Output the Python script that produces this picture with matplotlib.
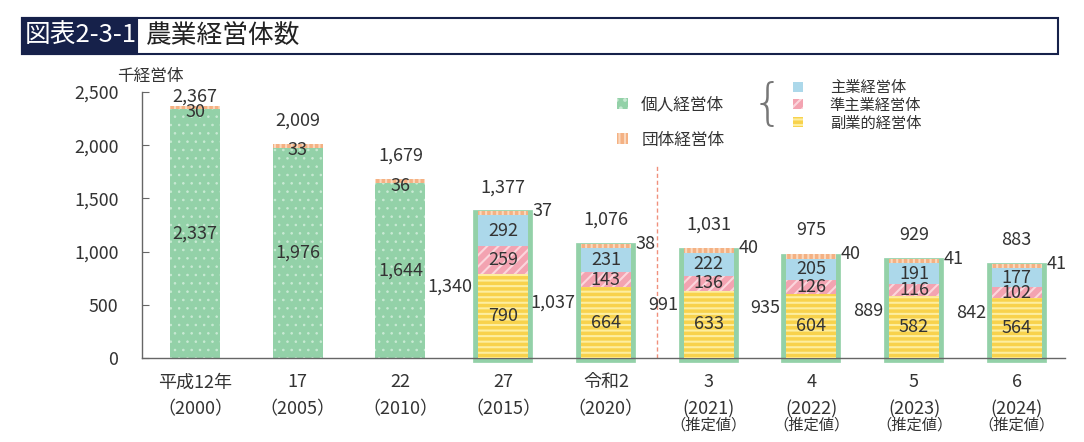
import matplotlib as mpl
import matplotlib.pyplot as plt
from matplotlib.patches import Rectangle, Patch
import numpy as np

plt.rcParams['font.family'] = ['Noto Sans CJK JP', 'DejaVu Sans']
plt.rcParams['hatch.linewidth'] = 1.5

# data (thousand farm entities)
cats = ['平成12年', '17', '22', '27', '令和2', '3', '4', '5', '6']
years = ['（2000）', '（2005）', '（2010）', '（2015）', '（2020）',
         '(2021)', '(2022)', '(2023)', '(2024)']
n_est = 4  # last four are estimates
individual = [2337, 1976, 1644, 1340, 1037, 991, 935, 889, 842]
org = [30, 33, 36, 37, 38, 40, 40, 41, 41]
total = [2367, 2009, 1679, 1377, 1076, 1031, 975, 929, 883]
# breakdown of individual entities from 2015 on
main_biz = [292, 231, 222, 205, 191, 177]
semi_biz = [259, 143, 136, 126, 116, 102]
side_biz = [790, 664, 633, 604, 582, 564]

green = '#93d1a8'
dot = '#c9ead4'
orange = '#f4b183'
blue = '#acd8ea'
pink = '#f3a3b1'
yellow = '#f8d24c'
navy = '#16214a'
txt = '#333333'

W, H = 1084, 442
fig = plt.figure(figsize=(W / 100, H / 100), dpi=100)
ax = fig.add_axes([142 / W, 1 - 358 / H, (1065 - 142) / W, 266 / H])

x = np.arange(len(cats))
w = 0.487
k = len(cats) - len(main_biz)
xs = x[k:]


def thin_hatch(container, lw):
    for p in container:
        if hasattr(p, 'set_hatch_linewidth'):
            p.set_hatch_linewidth(lw)


# plain green bars (2000-2010)
with mpl.rc_context({'hatch.linewidth': 0.6}):
    gb = ax.bar(x[:k], individual[:k], w, color=green, hatch='..', edgecolor=dot, lw=0, zorder=2)
thin_hatch(gb, 0.6)
# green frame around breakdown bars
ax.bar(xs, individual[k:], w, color=green, edgecolor=green, lw=7, clip_on=False, zorder=2)
b1 = np.array(side_biz)
b2 = b1 + np.array(semi_biz)
ax.bar(xs, side_biz, w, color=yellow, hatch='---', edgecolor='#fdeea0', lw=0, zorder=3)
ax.bar(xs, semi_biz, w, bottom=b1, color=pink, hatch='///', edgecolor='#fbd6dc', lw=0, zorder=3)
ax.bar(xs, main_biz, w, bottom=b2, color=blue, lw=0, zorder=3)
# organisations on top
ax.bar(x, org, w, bottom=individual, color=orange, hatch='|||', edgecolor='#fbd8bd', lw=0, zorder=4)

fs = 13
for i in range(len(cats)):
    ty = min(total[i] + 225, 2460)
    ax.text(x[i], ty, f'{total[i]:,}', ha='center', va='center', fontsize=fs, color=txt, zorder=6)
    if i < k:
        ax.text(x[i], individual[i] / 2, f'{individual[i]:,}', ha='center', va='center',
                fontsize=fs, color=txt, zorder=6)
        ax.text(x[i], individual[i] - 25, f'{org[i]}', ha='center', va='center', fontsize=fs,
                color=txt, zorder=6)
    else:
        ax.text(x[i] - 0.3, individual[i] / 2, f'{individual[i]:,}', ha='right', va='center',
                fontsize=fs, color=txt, zorder=6)
        ax.text(x[i] + 0.29, total[i], f'{org[i]}', ha='left', va='center', fontsize=fs,
                color=txt, zorder=6)

for j, xi in enumerate(xs):
    for val, bot in [(side_biz[j], 0), (semi_biz[j], b1[j]), (main_biz[j], b2[j])]:
        ax.text(xi, bot + val / 2, str(val), ha='center', va='center', fontsize=fs,
                color=txt, zorder=6)

# boundary between census years and estimates
ax.vlines(4.5, 0, 1800, colors='#f0907c', linestyles=(0, (3, 2)), lw=1)

ax.set_xlim(-0.516, 8.47)
ax.set_ylim(0, 2500)
ax.set_yticks(range(0, 2501, 500))
ax.set_yticklabels([f'{v:,}' for v in range(0, 2501, 500)])
ax.tick_params(axis='y', direction='in', length=5, pad=17, labelsize=12.8,
               labelcolor=txt, color='#666666')
ax.set_xticks([])
for s in ['top', 'right']:
    ax.spines[s].set_visible(False)
for s in ['left', 'bottom']:
    ax.spines[s].set_color('#666666')
    ax.spines[s].set_linewidth(1)

for i in range(len(cats)):
    ax.annotate(cats[i], (x[i], 0), xycoords=('data', 'axes fraction'),
                xytext=(0, -17.5), textcoords='offset points', ha='center', va='center',
                fontsize=13, color=txt)
    ax.annotate(years[i], (x[i], 0), xycoords=('data', 'axes fraction'),
                xytext=(0, -37), textcoords='offset points', ha='center', va='center',
                fontsize=13, color=txt)
    if i >= len(cats) - n_est:
        ax.annotate('（推定値）', (x[i], 0), xycoords=('data', 'axes fraction'),
                    xytext=(0, -48.5), textcoords='offset points', ha='center', va='center',
                    fontsize=11, color=txt)

ax.annotate('千経営体', (0, 1), xycoords='axes fraction', xytext=(6, 11),
            textcoords='offset points', ha='center', va='center', fontsize=12, color=txt)

# legends
h1 = [Patch(facecolor=green, hatch='..', edgecolor=dot, lw=0, label='個人経営体'),
      Patch(facecolor=orange, hatch='|||', edgecolor='#fbd8bd', lw=0, label='団体経営体')]
leg1 = ax.legend(handles=h1, loc='upper left', bbox_to_anchor=(617 / W, 1 - 96 / H),
                 bbox_transform=fig.transFigure, frameon=False, fontsize=12,
                 handlelength=0.65, handleheight=0.65, handletextpad=0.8,
                 labelspacing=1.12, borderpad=0, borderaxespad=0)
for t in leg1.get_texts():
    t.set_color(txt)
ax.add_artist(leg1)
h2 = [Patch(facecolor=blue, lw=0, label='主業経営体'),
      Patch(facecolor=pink, hatch='///', edgecolor='#fbd6dc', lw=0, label='準主業経営体'),
      Patch(facecolor=yellow, hatch='---', edgecolor='#fdeea0', lw=0, label='副業的経営体')]
leg2 = ax.legend(handles=h2, loc='upper left', bbox_to_anchor=(793 / W, 1 - 79 / H),
                 bbox_transform=fig.transFigure, frameon=False, fontsize=11,
                 handlelength=0.65, handleheight=0.65, handletextpad=1.75,
                 labelspacing=0.05, borderpad=0, borderaxespad=0)
for t in leg2.get_texts():
    t.set_color(txt)
fig.text(768 / W, 1 - 105 / H, '{', fontsize=36, family='DejaVu Sans', weight='light',
         color='#777777', ha='center', va='center')

# title box
fig.patches.append(Rectangle((22 / W, 1 - 54 / H), (1058 - 22) / W, 36 / H,
                             transform=fig.transFigure, fill=False, edgecolor=navy, lw=1.5))
fig.patches.append(Rectangle((22 / W, 1 - 54 / H), (137 - 22) / W, 36 / H,
                             transform=fig.transFigure, facecolor=navy, edgecolor=navy, lw=1.5))
fig.text(25 / W, 1 - 36 / H, '図表2-3-1', color='white', fontsize=18.5, va='center', ha='left')
fig.text(146 / W, 1 - 36 / H, '農業経営体数', color='#222222', fontsize=18.5, va='center', ha='left')

fig.savefig('out.png', dpi=100)
